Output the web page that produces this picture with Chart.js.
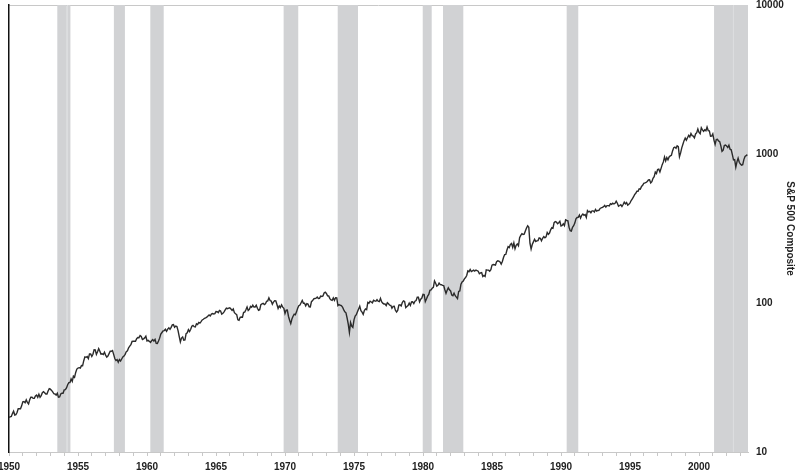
<!DOCTYPE html>
<html>
<head>
<meta charset="utf-8">
<script src="https://cdn.jsdelivr.net/npm/chart.js@4.4.1/dist/chart.umd.min.js"></script>
<style>
  html, body { margin: 0; padding: 0; background: #fff; }
  #wrap { width: 800px; height: 472px; position: relative; }
</style>
</head>
<body>
<div id="wrap"><canvas id="spChart"></canvas></div>
<script>
// S&P 500 Composite, monthly, Jan 1950 - Jul 2003
const sp1950s = [
  17.1, 17.2, 17.3, 18.1, 18.8, 17.7, 17.8, 18.4, 19.5, 19.5, 19.5, 20.4,
  21.7, 21.8, 21.4, 22.4, 21.5, 21.0, 22.4, 23.3, 23.3, 22.9, 22.9, 23.8,
  24.1, 23.3, 24.4, 23.3, 23.9, 25.0, 25.4, 25.0, 24.5, 24.5, 25.7, 26.6,
  26.4, 25.9, 25.3, 24.6, 24.5, 24.1, 24.8, 23.3, 23.4, 24.5, 24.8, 24.8,
  26.1, 26.2, 26.9, 28.3, 29.2, 29.2, 30.9, 29.8, 32.3, 31.7, 34.2, 36.0,
  36.6, 36.8, 36.6, 38.0, 37.9, 41.0, 43.5, 43.2, 43.7, 42.3, 45.5, 45.5,
  43.8, 45.3, 48.5, 48.4, 45.2, 47.0, 49.4, 47.5, 45.4, 45.6, 45.1, 46.7,
  44.7, 43.3, 44.1, 45.7, 47.4, 47.4, 47.9, 45.2, 42.4, 41.1, 41.7, 40.0,
  41.7, 40.8, 42.1, 43.4, 44.1, 45.2, 47.2, 47.8, 50.1, 51.3, 52.5, 55.2,
  55.4, 55.4, 55.4, 57.6, 58.7, 58.5, 60.5, 59.6, 56.9, 57.5, 58.3, 59.9
];
const sp1960s = [
  55.6, 56.1, 55.3, 54.4, 55.8, 56.9, 55.5, 57.0, 53.5, 53.4, 55.5, 58.1,
  61.8, 63.4, 65.1, 65.3, 66.6, 64.6, 66.8, 68.1, 66.7, 68.6, 71.3, 71.6,
  68.8, 70.0, 69.6, 65.2, 59.6, 54.8, 58.2, 59.1, 56.3, 56.5, 62.3, 63.1,
  66.2, 64.3, 66.6, 69.8, 70.8, 69.4, 69.1, 72.5, 71.7, 74.0, 73.2, 75.0,
  77.0, 77.8, 79.0, 79.5, 80.4, 81.7, 83.2, 81.8, 84.2, 84.9, 84.4, 84.8,
  87.6, 87.4, 86.2, 89.1, 88.4, 84.1, 85.3, 87.2, 90.0, 92.4, 91.6, 92.4,
  92.9, 91.2, 89.2, 91.1, 86.1, 84.7, 83.6, 77.1, 76.6, 80.2, 80.5, 80.3,
  86.6, 86.8, 90.2, 94.0, 89.1, 90.6, 94.8, 93.6, 96.7, 93.9, 94.0, 96.5,
  92.2, 89.4, 90.2, 97.6, 98.7, 99.6, 97.7, 98.9, 102.7, 103.4, 108.4, 103.9,
  103.0, 98.1, 101.5, 103.7, 103.5, 97.7, 91.8, 95.5, 93.1, 97.2, 93.8, 92.1
];
const sp1970s = [
  85.0, 89.5, 89.6, 81.5, 76.6, 72.7, 78.1, 81.5, 84.2, 83.3, 87.2, 92.2,
  95.9, 96.8, 100.3, 104.0, 99.6, 99.7, 95.6, 99.0, 98.3, 94.2, 94.0, 102.1,
  103.9, 106.6, 107.2, 107.7, 109.5, 107.1, 107.4, 111.1, 110.6, 111.6, 116.7, 118.1,
  116.0, 111.7, 111.5, 107.0, 105.0, 104.3, 108.2, 104.3, 108.4, 108.3, 96.0, 97.6,
  96.6, 96.2, 94.0, 90.3, 87.3, 86.0, 79.3, 72.2, 63.5, 73.9, 70.0, 68.6,
  77.0, 81.6, 83.4, 87.3, 91.2, 95.2, 88.8, 86.9, 83.9, 89.0, 91.2, 90.2,
  100.9, 99.7, 102.8, 101.6, 100.2, 104.3, 103.4, 102.9, 105.2, 102.9, 102.1, 107.5,
  102.0, 99.8, 98.4, 98.4, 96.1, 100.5, 98.9, 96.8, 96.5, 92.3, 94.8, 95.1,
  89.3, 87.0, 89.2, 96.8, 97.2, 95.5, 100.7, 103.3, 102.5, 93.2, 94.7, 96.1,
  99.9, 96.3, 101.6, 101.8, 99.1, 102.9, 103.8, 109.3, 109.3, 101.8, 106.2, 107.9
];
const sp1980s = [
  114.2, 113.7, 102.1, 106.3, 111.2, 114.2, 121.7, 122.4, 125.5, 127.5, 140.5, 135.8,
  129.6, 131.3, 136.0, 132.8, 132.6, 131.2, 130.9, 122.8, 116.2, 121.9, 126.4, 122.6,
  120.4, 113.1, 112.0, 116.4, 111.9, 109.6, 107.1, 119.5, 120.4, 133.7, 138.5, 140.6,
  145.3, 148.1, 153.0, 164.4, 162.4, 168.1, 162.6, 164.4, 166.1, 163.6, 166.4, 164.9,
  163.4, 157.1, 159.2, 160.1, 150.6, 153.2, 150.7, 166.7, 166.1, 166.1, 163.6, 167.2,
  179.6, 181.2, 180.7, 179.8, 189.6, 191.9, 190.9, 188.6, 182.1, 189.8, 202.2, 211.3,
  211.8, 226.9, 238.9, 235.5, 247.4, 250.8, 236.1, 252.9, 231.3, 244.0, 249.2, 242.2,
  274.1, 284.2, 291.7, 288.4, 290.1, 304.0, 318.7, 329.8, 321.8, 251.8, 230.3, 247.1,
  257.1, 267.8, 258.9, 261.3, 262.2, 273.5, 272.0, 261.5, 271.9, 279.0, 273.7, 277.7,
  297.5, 288.9, 294.9, 309.6, 320.5, 318.0, 346.1, 351.5, 349.2, 340.4, 346.0, 353.4
];
const sp1990s = [
  329.1, 331.9, 339.9, 330.8, 361.2, 358.0, 356.2, 322.6, 306.1, 304.0, 322.2, 330.2,
  343.9, 367.1, 375.2, 375.4, 389.8, 371.2, 387.8, 395.4, 387.9, 392.5, 375.2, 417.1,
  408.8, 412.7, 403.7, 415.0, 415.4, 408.1, 424.2, 414.0, 417.8, 418.7, 431.4, 435.7,
  438.8, 443.4, 451.7, 440.2, 450.2, 450.5, 448.1, 463.6, 458.9, 467.8, 461.8, 466.5,
  481.6, 467.1, 445.8, 450.9, 456.5, 444.3, 458.3, 475.5, 462.7, 472.4, 453.7, 459.3,
  470.4, 487.4, 500.7, 514.7, 533.4, 544.8, 562.1, 561.9, 584.4, 581.5, 605.4, 615.9,
  636.0, 640.4, 645.5, 654.2, 669.1, 670.6, 640.0, 652.0, 687.3, 705.3, 757.0, 740.7,
  786.2, 790.8, 757.1, 801.3, 848.3, 885.1, 954.3, 899.5, 947.3, 914.6, 955.4, 970.4,
  980.3, 1049.3, 1101.8, 1111.8, 1090.8, 1133.8, 1120.7, 957.3, 1017.0, 1098.7, 1163.6, 1229.2,
  1279.6, 1238.3, 1286.4, 1335.2, 1301.8, 1372.7, 1328.7, 1320.4, 1282.7, 1362.9, 1388.9, 1469.3
];
const sp2000s = [
  1394.5, 1366.4, 1498.6, 1452.4, 1420.6, 1454.6, 1430.8, 1517.7, 1436.5, 1429.4, 1315.0, 1320.3,
  1366.0, 1239.9, 1160.3, 1249.5, 1255.8, 1224.4, 1211.2, 1133.6, 1040.9, 1059.8, 1139.5, 1148.1,
  1130.2, 1106.7, 1147.4, 1076.9, 1067.1, 989.8, 911.6, 916.1, 815.3, 885.8, 936.3, 879.8,
  855.7, 841.2, 848.2, 916.9, 963.6, 974.5, 990.3
];

// recession shading (decimal years)
const recStart = [1953.50, 1954.18, 1957.60, 1960.24, 1969.90, 1973.82, 1979.98, 1981.45, 1990.41, 2001.09, 2002.46];
const recEnd   = [1954.18, 1954.45, 1958.40, 1961.21, 1970.96, 1975.29, 1980.63, 1982.92, 1991.25, 2002.46, 2003.55];

const xFirst = 1950;
const xLast = 2003.55;
const xLabelStep = 5;
const yTicks = [10, 100, 1000, 10000];

const monthly = [].concat(sp1950s, sp1960s, sp1970s, sp1980s, sp1990s, sp2000s);
const points = monthly.map((v, i) => ({ x: xFirst + i / 12, y: v }));

const fontBold = { family: "'Liberation Sans', Arial, sans-serif", size: 10, weight: 'bold' };

// grey recession bars behind the line
const recessionBands = {
    id: 'recessionBands',
    beforeDatasetsDraw(chart) {
        const { ctx, chartArea, scales } = chart;
        const h = chartArea.bottom - chartArea.top;
        ctx.save();
        for (let i = 0; i < recStart.length; i++) {
            const x1 = scales.x.getPixelForValue(recStart[i]);
            const x2 = scales.x.getPixelForValue(recEnd[i]);
            ctx.fillStyle = '#d1d2d4';
            ctx.fillRect(x1, chartArea.top, x2 - x1, h);
            if (i > 0 && recStart[i] === recEnd[i - 1]) {
                ctx.fillStyle = '#dcdddf';
                ctx.fillRect(Math.round(x1), chartArea.top, 1, h);
            }
        }
        ctx.restore();
    }
};

// keep the plot box fixed: no extra room for overhanging labels
function noOverhang(scale) {
    scale.paddingLeft = 0;
    scale.paddingRight = 0;
    scale.paddingTop = 0;
    scale.paddingBottom = 0;
}

new Chart(document.getElementById('spChart').getContext('2d'), {
    type: 'line',
    data: {
        datasets: [{
            label: 'S&P 500 Composite',
            data: points,
            borderColor: '#2b2b2b',
            borderWidth: 1.4,
            pointRadius: 0,
            tension: 0,
            fill: false
        }]
    },
    options: {
        responsive: true,
        maintainAspectRatio: false,
        animation: false,
        layout: { padding: { top: 5, right: 0, bottom: 0, left: 0 } },
        plugins: { legend: { display: false }, tooltip: { enabled: false } },
        scales: {
            x: {
                type: 'linear',
                min: xFirst,
                max: xLast,
                afterBuildTicks: scale => {
                    const t = [];
                    for (let y = xFirst; y <= xLast; y++) t.push({ value: y });
                    scale.ticks = t;
                },
                afterFit: scale => { scale.height = 20; noOverhang(scale); },
                ticks: {
                    autoSkip: false,
                    maxRotation: 0,
                    padding: 5,
                    color: '#222',
                    font: fontBold,
                    callback: v => (v % xLabelStep === 0 ? String(v) : '')
                },
                grid: { drawOnChartArea: false, tickLength: 4, color: '#c8c8c8' },
                border: { color: '#c8c8c8', width: 1 }
            },
            y: {
                type: 'logarithmic',
                position: 'right',
                min: 10,
                max: 10000,
                afterBuildTicks: scale => { scale.ticks = yTicks.map(v => ({ value: v })); },
                afterFit: scale => { scale.width = 52; noOverhang(scale); },
                ticks: {
                    padding: 8,
                    color: '#222',
                    font: fontBold,
                    callback: v => String(v)
                },
                grid: {
                    drawTicks: false,
                    color: c => (c.tick && c.tick.value === 10000 ? '#c8c8c8' : 'rgba(0,0,0,0)')
                },
                border: { display: false },
                title: {
                    display: true,
                    text: 'S&P 500 Composite',
                    color: '#222',
                    font: fontBold,
                    padding: { top: 4, bottom: 0 }
                }
            },
            yl: {
                type: 'linear',
                position: 'left',
                min: 0,
                max: 1,
                afterFit: scale => { scale.width = 9; noOverhang(scale); },
                ticks: { display: false },
                grid: { display: false, drawTicks: false },
                border: { display: true, color: '#111', width: 1.5 }
            }
        }
    },
    plugins: [recessionBands]
});
</script>
</body>
</html>
